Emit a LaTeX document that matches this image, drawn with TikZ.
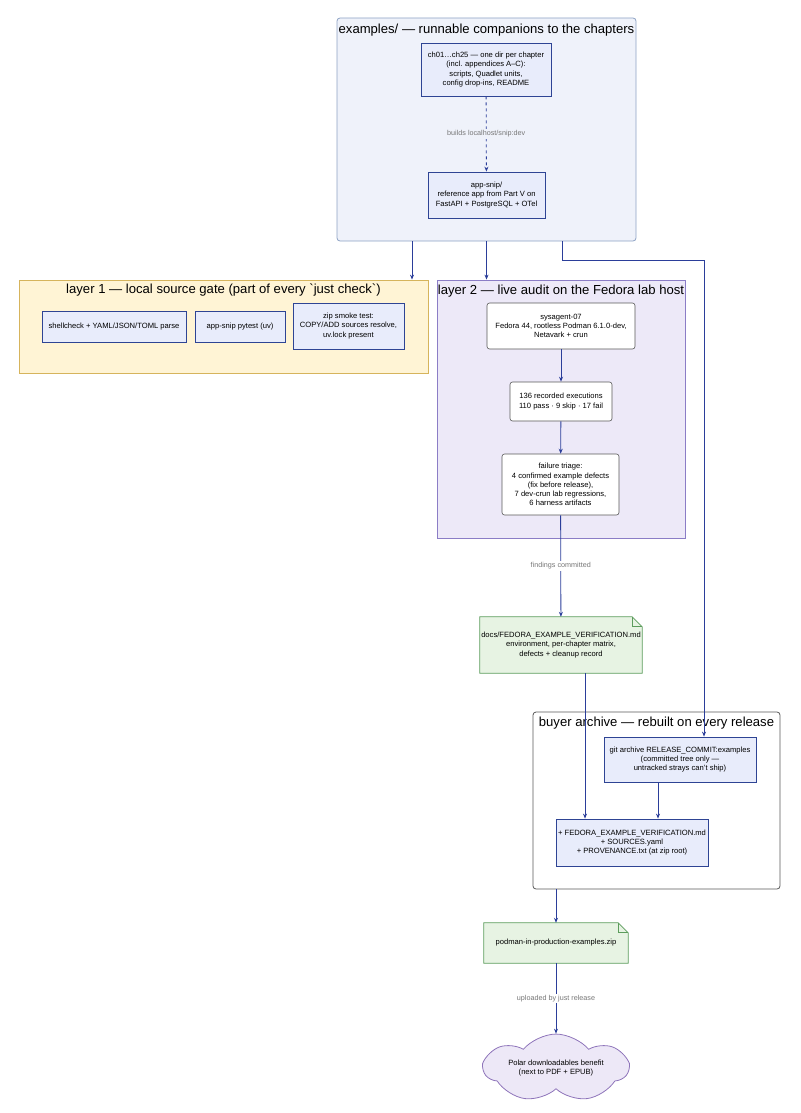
\documentclass[tikz,border=0pt]{standalone}
\usepackage{fontspec}
\setmainfont{Liberation Sans}
\usepackage{xcolor}
\usetikzlibrary{arrows.meta,shapes.symbols}

\definecolor{exbg}{HTML}{EFF2FA}
\definecolor{exline}{HTML}{8DA2C4}
\definecolor{gatebg}{HTML}{FFF4D5}
\definecolor{gateline}{HTML}{D6B45C}
\definecolor{auditbg}{HTML}{EDE9F8}
\definecolor{auditline}{HTML}{8B7DC6}
\definecolor{stepbg}{HTML}{E8ECFB}
\definecolor{stepline}{HTML}{2E4494}
\definecolor{notebg}{HTML}{E7F3E3}
\definecolor{noteline}{HTML}{5C9C5C}
\definecolor{cloudbg}{HTML}{EDE8F7}
\definecolor{cloudline}{HTML}{8E74BA}
\definecolor{arrowc}{HTML}{2B3E9A}
\definecolor{labelc}{HTML}{777777}

\begin{document}
\begin{tikzpicture}[x=1pt, y=-1pt,
		font=\fontsize{7.6}{9.2}\selectfont,
		cluster/.style={draw, line width=0.8pt, inner sep=0pt},
		title/.style={font=\fontsize{13.1}{15}\selectfont, inner sep=0pt},
		stepbox/.style={draw=stepline, fill=stepbg, line width=0.8pt, align=center, inner sep=2pt},
		hostbox/.style={draw=black!65, fill=white, rounded corners=2.5pt, line width=0.6pt, align=center, inner sep=2pt},
		note/.style={align=center, inner sep=2pt},
		flow/.style={-{Stealth[length=5pt, width=4pt]}, draw=arrowc, line width=0.8pt},
		elabel/.style={font=\fontsize{7.2}{8}\selectfont, text=labelc, inner sep=1.5pt}]
		\useasboundingbox (0,0) rectangle (800,1113);

		% examples/ cluster
		\node[cluster, draw=exline, fill=exbg, rounded corners=3pt, minimum width=299pt, minimum height=223pt] (examples) at (486.5,129.5) {};
		\node[title] at (486.5,30) {examples/ — runnable companions to the chapters};
		\node[stepbox, minimum width=130pt, minimum height=53pt] (chapters) at (486,69.5) {ch01…ch25 — one dir per chapter\\(incl. appendices A–C):\\scripts, Quadlet units,\\config drop-ins, README};
		\node[stepbox, minimum width=117pt, minimum height=46pt] (appsnip) at (486.5,195) {app-snip/\\reference app from Part V on\\FastAPI + PostgreSQL + OTel};

		% layer 1
		\node[cluster, draw=gateline, fill=gatebg, minimum width=409pt, minimum height=93pt] (layer1) at (223.5,326.5) {};
		\node[title] at (223.5,290) {layer 1 — local source gate (part of every \textasciigrave just check\textasciigrave)};
		\node[stepbox, minimum width=144pt, minimum height=31pt] (lint) at (114,326.5) {shellcheck + YAML/JSON/TOML parse};
		\node[stepbox, minimum width=90pt, minimum height=31pt] (pytest) at (240,326.5) {app-snip pytest (uv)};
		\node[stepbox, minimum width=111pt, minimum height=46pt] (smoke) at (348.5,326) {zip smoke test:\\COPY/ADD sources resolve,\\uv.lock present};

		% layer 2
		\node[cluster, draw=auditline, fill=auditbg, minimum width=248pt, minimum height=258pt] (layer2) at (561,409) {};
		\node[title] at (561,291) {layer 2 — live audit on the Fedora lab host};
		\node[hostbox, minimum width=148pt, minimum height=46pt] (host) at (561,326) {sysagent-07\\Fedora 44, rootless Podman 6.1.0-dev,\\Netavark + crun};
		\node[hostbox, minimum width=102pt, minimum height=39pt] (runs) at (561,401.5) {136 recorded executions\\110 pass · 9 skip · 17 fail};
		\node[hostbox, minimum width=117pt, minimum height=61pt] (triage) at (560.5,484.5) {failure triage:\\4 confirmed example defects\\(fix before release),\\7 dev-crun lab regressions,\\6 harness artifacts};

		% verification record
		\node[note, minimum width=162pt, minimum height=56pt] (docs) at (561,645) {};
		\filldraw[fill=notebg, draw=noteline, line width=0.8pt] (docs.north west) -- ([xshift=-10pt]docs.north east) -- ([yshift=-10pt]docs.north east) -- (docs.south east) -- (docs.south west) -- cycle;
		\draw[noteline, line width=0.8pt] ([xshift=-10pt]docs.north east) |- ([yshift=-10pt]docs.north east);
		\node[note] at (docs) {docs/FEDORA\_EXAMPLE\_VERIFICATION.md\\environment, per-chapter matrix,\\defects + cleanup record};

		% buyer archive
		\node[cluster, draw=black!65, fill=white, rounded corners=3pt, minimum width=247pt, minimum height=177pt] (buyer) at (656.5,800.5) {};
		\node[title] at (656.5,723) {buyer archive — rebuilt on every release};
		\node[stepbox, minimum width=152pt, minimum height=45pt] (git) at (680,759.5) {git archive RELEASE\_COMMIT:examples\\(committed tree only —\\untracked strays can't ship)};
		\node[stepbox, minimum width=152pt, minimum height=47pt] (extras) at (632,842.5) {+ FEDORA\_EXAMPLE\_VERIFICATION.md\\+ SOURCES.yaml\\+ PROVENANCE.txt (at zip root)};

		% zip and upload
		\node[note, minimum width=144pt, minimum height=40pt] (zip) at (556,943) {};
		\filldraw[fill=notebg, draw=noteline, line width=0.8pt] (zip.north west) -- ([xshift=-10pt]zip.north east) -- ([yshift=-10pt]zip.north east) -- (zip.south east) -- (zip.south west) -- cycle;
		\draw[noteline, line width=0.8pt] ([xshift=-10pt]zip.north east) |- ([yshift=-10pt]zip.north east);
		\node[note] at (zip) {podman-in-production-examples.zip};
		\node[cloud, cloud puffs=7, cloud puff arc=100, aspect=3, draw=cloudline, fill=cloudbg, line width=0.8pt, minimum width=144pt, minimum height=50pt, align=center, inner sep=0pt] (polar) at (556,1068) {Polar downloadables benefit\\(next to PDF + EPUB)};

		% connectors
		\draw[flow, dash pattern=on 3pt off 3pt] (chapters) -- node[elabel, fill=exbg] {builds localhost/snip:dev} (appsnip);
		\draw[flow] ([xshift=-74.5pt]examples.south) -- ([xshift=-74.5pt]examples.south |- layer1.north);
		\draw[flow] (examples.south) -- (examples.south |- layer2.north);
		\draw[flow] ([xshift=75.5pt]examples.south) -- ++(0,19) -| ([xshift=24pt]git.north);
		\draw[flow] (host) -- (runs);
		\draw[flow] (runs) -- (triage);
		\draw[flow] (triage) -- node[elabel, fill=white] {findings committed} (docs);
		\draw[flow] ([xshift=24pt]docs.south) -- ([xshift=24pt]docs.south |- extras.north);
		\draw[flow] ([xshift=-22pt]git.south) -- ([xshift=-22pt]git.south |- extras.north);
		\draw[flow] (zip.north |- buyer.south) -- (zip.north);
		\draw[flow] (zip) -- node[elabel, fill=white] {uploaded by just release} (polar);
	\end{tikzpicture}
\end{document}
